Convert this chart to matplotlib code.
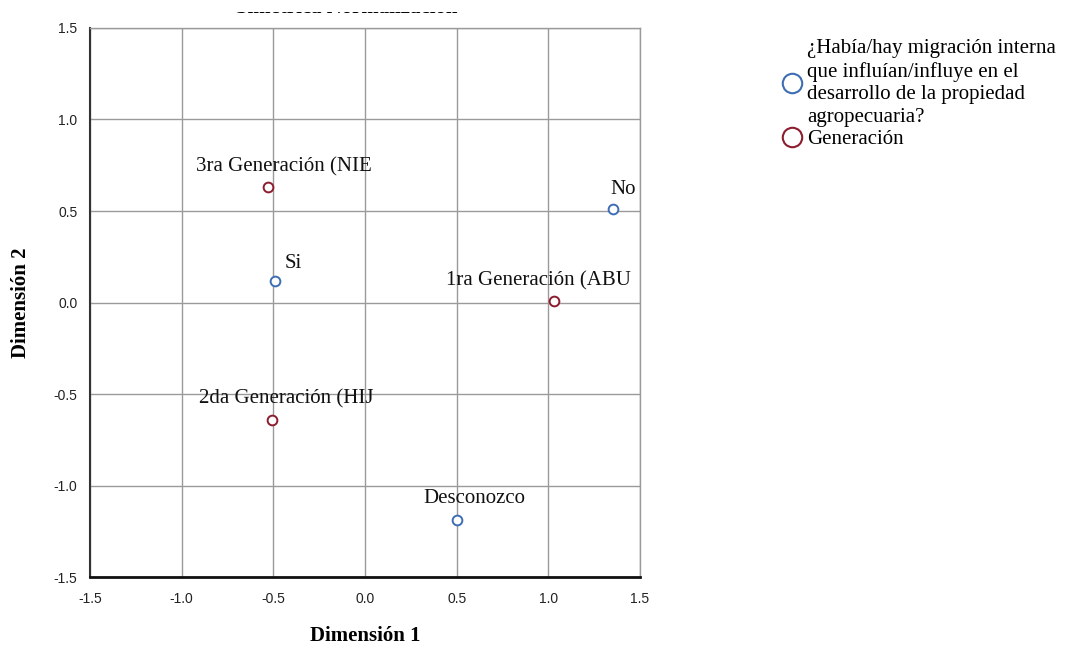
import matplotlib
matplotlib.use('Agg')
import matplotlib.pyplot as plt
from matplotlib.lines import Line2D
from matplotlib.transforms import Bbox

# category coordinates (symmetric normalization)
migracion_cats = ['Si', 'No', 'Desconozco']
migracion_x = [-0.49, 1.35, 0.50]
migracion_y = [0.12, 0.51, -1.19]

generacion_cats = ['3ra Generación (NIE', '1ra Generación (ABU', '2da Generación (HIJ']
generacion_x = [-0.53, 1.03, -0.51]
generacion_y = [0.63, 0.01, -0.64]

ticks = [-1.5, -1.0, -0.5, 0.0, 0.5, 1.0, 1.5]

# label offsets in points (dx, dy) from each point
mig_offsets = [(7, 12), (-1.5, 14.5), (-24, 16)]
gen_offsets = [(-52, 14.5), (-78, 14), (-52, 15)]

blue = '#3f6db4'
red = '#8c1c2e'
serif = 'Liberation Serif'
fs = 15

W, H = 1069, 645
fig = plt.figure(figsize=(W / 100, H / 100), dpi=100)
ax = fig.add_axes([0.0842, 0.1054, 0.5145, 0.8512])

ax.set_xlim(-1.5, 1.5)
ax.set_ylim(-1.5, 1.5)
ax.set_xticks(ticks)
ax.set_yticks(ticks)
ax.set_xticklabels(['%.1f' % t for t in ticks])
ax.set_yticklabels(['%.1f' % t for t in ticks])
ax.grid(True, color='#9a9a9a', linewidth=1.0)
ax.set_axisbelow(True)
ax.tick_params(length=0, labelsize=10, colors='#222222')
ax.tick_params(axis='x', pad=11)
ax.tick_params(axis='y', pad=9)
for lab in ax.get_xticklabels() + ax.get_yticklabels():
    lab.set_family('Liberation Sans')

for s in ['top', 'right']:
    ax.spines[s].set_color('#9a9a9a')
    ax.spines[s].set_linewidth(1.0)
ax.spines['left'].set_color('#333333')
ax.spines['left'].set_linewidth(1.5)
ax.spines['bottom'].set_color('#111111')
ax.spines['bottom'].set_linewidth(2.0)

ax.plot(migracion_x, migracion_y, 'o', mfc='white', mec=blue, mew=1.4, ms=7, clip_on=False)
ax.plot(generacion_x, generacion_y, 'o', mfc='white', mec=red, mew=1.4, ms=7, clip_on=False)

for name, x, y, off in zip(migracion_cats, migracion_x, migracion_y, mig_offsets):
    ax.annotate(name, (x, y), xytext=off, textcoords='offset points',
                family=serif, fontsize=fs, color='#111111', va='center', ha='left',
                annotation_clip=False, clip_on=True)
for name, x, y, off in zip(generacion_cats, generacion_x, generacion_y, gen_offsets):
    ax.annotate(name, (x, y), xytext=off, textcoords='offset points',
                family=serif, fontsize=fs, color='#111111', va='center', ha='left',
                annotation_clip=False, clip_on=True)

ax.set_xlabel('Dimensión 1', family=serif, fontsize=15, fontweight='bold', labelpad=14)
ax.set_ylabel('Dimensión 2', family=serif, fontsize=15, fontweight='bold', labelpad=16)

# title: only the lower strip of the glyphs shows under the top margin
title = fig.text(0.324, 1 - 8 / H, 'Simétrica Normalización', family=serif, fontsize=15,
                 fontweight='bold', ha='center', va='center')
title.set_clip_box(Bbox([[0, H - 16], [W, H - 12]]))
title.set_clip_on(True)

handles = [
    Line2D([], [], marker='o', ls='none', mfc='white', mec=blue, mew=1.5, ms=14),
    Line2D([], [], marker='o', ls='none', mfc='white', mec=red, mew=1.5, ms=14),
]
labels = ['¿Había/hay migración interna\nque influían/influye en el\ndesarrollo de la propiedad\nagropecuaria?',
          'Generación']
leg = fig.legend(handles, labels, loc='upper left', bbox_to_anchor=(0.716, 0.962),
                 frameon=False, handletextpad=0.1, handlelength=1.2, labelspacing=0.12,
                 borderpad=0.2, prop={'family': serif, 'size': fs})
for t in leg.get_texts():
    t.set_linespacing(1.25)

fig.savefig('out.png', dpi=100)
